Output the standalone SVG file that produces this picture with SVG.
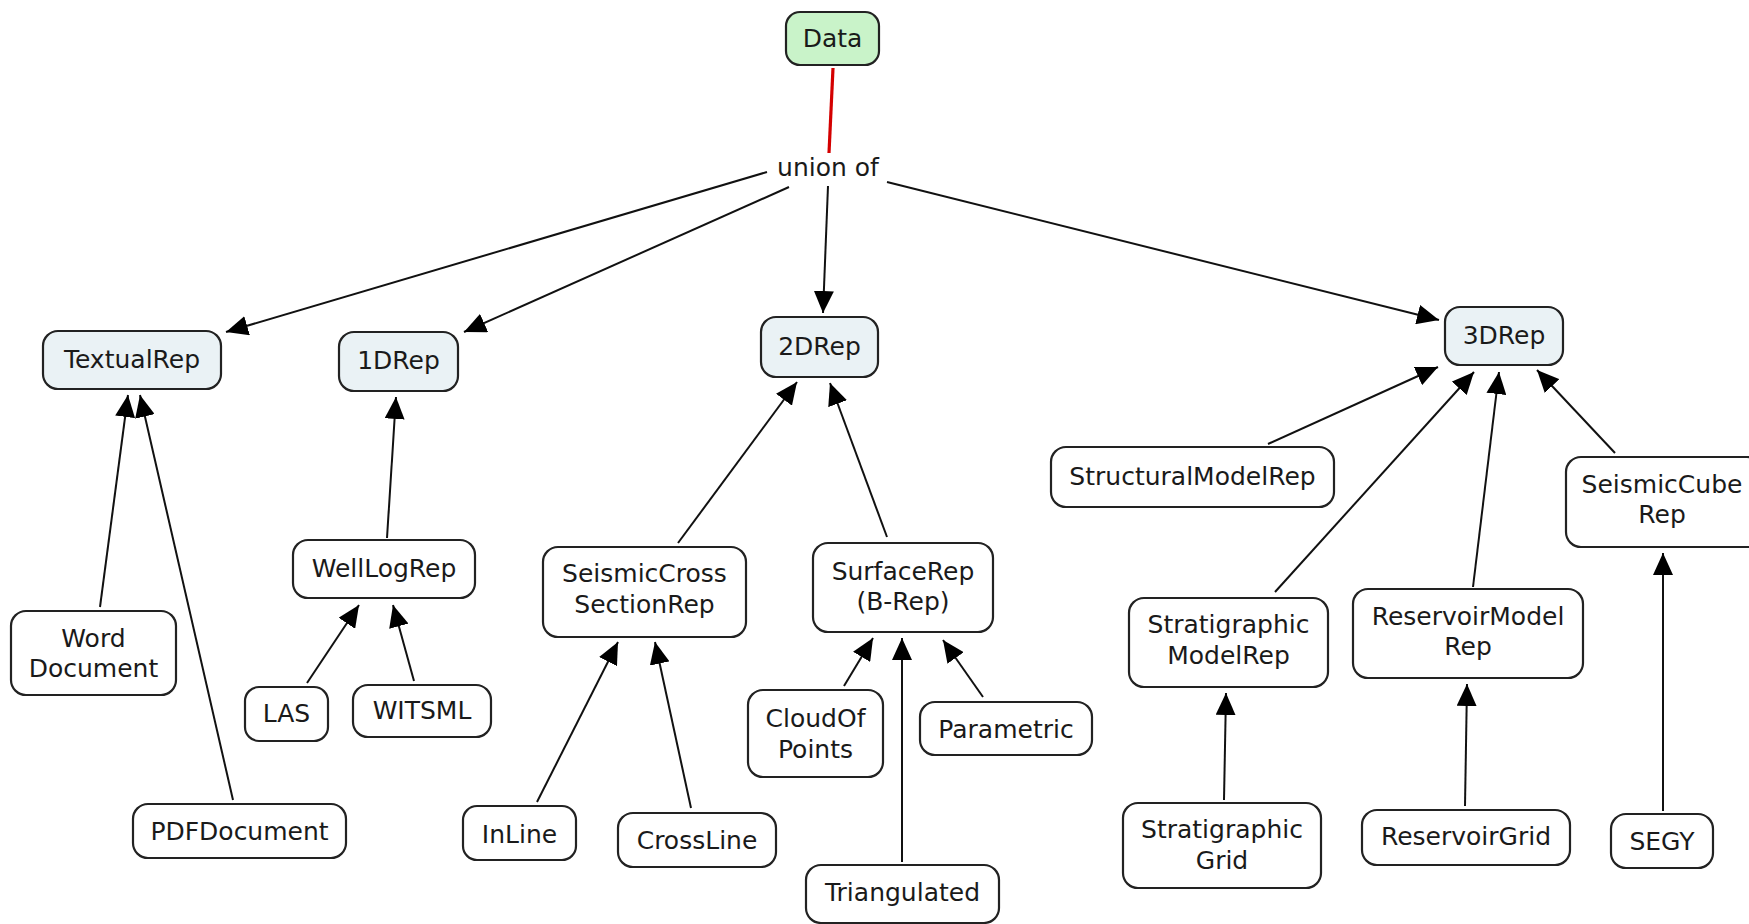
<svg xmlns="http://www.w3.org/2000/svg" width="1749" height="924" viewBox="0 0 1749 924">
<style>
.n rect{stroke:#222;stroke-width:2.2;fill:#fff}
.n.top rect{fill:#eaf2f5}
.n.root rect{fill:#c9f3c9}
text{font-family:"DejaVu Sans","Verdana",sans-serif;font-size:25px;fill:#1a1a1a;text-anchor:middle}
.c line{stroke:#111;stroke-width:2}
.c line.a{marker-end:url(#ah)}
.c line.red{stroke:#d40000;stroke-width:3.2}
</style>
<defs>
<marker id="ah" viewBox="0 0 22 20" refX="22" refY="10" markerWidth="22" markerHeight="20" orient="auto" markerUnits="userSpaceOnUse">
<path d="M0,0 L22,10 L0,20 Z" fill="#000"/>
</marker>
</defs>
<rect width="1749" height="924" fill="#fff"/>
<g id="connectors" class="c">
<line class="red" x1="833" y1="68" x2="829" y2="153"/>
<line class="a" x1="767" y1="172" x2="226" y2="332"/>
<line class="a" x1="789" y1="187" x2="464" y2="332"/>
<line class="a" x1="828" y1="186" x2="823" y2="313"/>
<line class="a" x1="887" y1="182" x2="1439" y2="320"/>
<line class="a" x1="100" y1="607" x2="128" y2="395"/>
<line class="a" x1="233" y1="800" x2="140" y2="395"/>
<line class="a" x1="387" y1="538" x2="396" y2="397"/>
<line class="a" x1="307" y1="683" x2="359" y2="605"/>
<line class="a" x1="414" y1="681" x2="393" y2="605"/>
<line class="a" x1="678" y1="543" x2="797" y2="382"/>
<line class="a" x1="887" y1="537" x2="830" y2="383"/>
<line class="a" x1="537" y1="802" x2="618" y2="642"/>
<line class="a" x1="691" y1="808" x2="655" y2="642"/>
<line class="a" x1="844" y1="686" x2="873" y2="638"/>
<line class="a" x1="902" y1="862" x2="902" y2="638"/>
<line class="a" x1="983" y1="697" x2="943" y2="640"/>
<line class="a" x1="1268" y1="444" x2="1438" y2="367"/>
<line class="a" x1="1275" y1="592" x2="1474" y2="372"/>
<line class="a" x1="1473" y1="587" x2="1499" y2="372"/>
<line class="a" x1="1615" y1="453" x2="1537" y2="370"/>
<line class="a" x1="1224" y1="800" x2="1226" y2="693"/>
<line class="a" x1="1465" y1="806" x2="1467" y2="684"/>
<line class="a" x1="1663" y1="811" x2="1663" y2="553"/>
</g>
<g id="union-of"><text x="828" y="176">union of</text></g>
<g id="data" class="n root"><rect x="786" y="12" width="93" height="53" rx="14"/><text x="832.5" y="47">Data</text></g>
<g id="textualrep" class="n top"><rect x="43" y="331" width="178" height="58" rx="15"/><text x="132" y="368">TextualRep</text></g>
<g id="rep1d" class="n top"><rect x="339" y="332" width="119" height="59" rx="15"/><text x="398.5" y="369">1DRep</text></g>
<g id="rep2d" class="n top"><rect x="761" y="317" width="117" height="60" rx="15"/><text x="819.5" y="355">2DRep</text></g>
<g id="rep3d" class="n top"><rect x="1445" y="307" width="118" height="58" rx="15"/><text x="1504" y="344">3DRep</text></g>
<g id="welllogrep" class="n"><rect x="293" y="540" width="182" height="58" rx="15"/><text x="384" y="577">WellLogRep</text></g>
<g id="worddocument" class="n"><rect x="11" y="611" width="165" height="84" rx="15"/><text x="93.5" y="647">Word</text><text x="93.5" y="677">Document</text></g>
<g id="pdfdocument" class="n"><rect x="133" y="804" width="213" height="54" rx="15"/><text x="239.5" y="840">PDFDocument</text></g>
<g id="las" class="n"><rect x="245" y="687" width="83" height="54" rx="14"/><text x="286.5" y="722">LAS</text></g>
<g id="witsml" class="n"><rect x="353" y="685" width="138" height="52" rx="15"/><text x="422" y="719">WITSML</text></g>
<g id="seismiccrosssectionrep" class="n"><rect x="543" y="547" width="203" height="90" rx="15"/><text x="644.5" y="582">SeismicCross</text><text x="644.5" y="613">SectionRep</text></g>
<g id="surfacerep" class="n"><rect x="813" y="543" width="180" height="89" rx="15"/><text x="903" y="580">SurfaceRep</text><text x="903" y="610">(B-Rep)</text></g>
<g id="inline" class="n"><rect x="463" y="806" width="113" height="54" rx="14"/><text x="519.5" y="843">InLine</text></g>
<g id="crossline" class="n"><rect x="618" y="813" width="158" height="54" rx="15"/><text x="697" y="849">CrossLine</text></g>
<g id="cloudofpoints" class="n"><rect x="748" y="690" width="135" height="87" rx="15"/><text x="815.5" y="727">CloudOf</text><text x="815.5" y="758">Points</text></g>
<g id="parametric" class="n"><rect x="920" y="702" width="172" height="53" rx="15"/><text x="1006" y="738">Parametric</text></g>
<g id="triangulated" class="n"><rect x="806" y="865" width="193" height="58" rx="15"/><text x="902.5" y="901">Triangulated</text></g>
<g id="structuralmodelrep" class="n"><rect x="1051" y="447" width="283" height="60" rx="15"/><text x="1192.5" y="485">StructuralModelRep</text></g>
<g id="seismiccuberep" class="n"><rect x="1566" y="457" width="196" height="90" rx="15"/><text x="1662" y="493">SeismicCube</text><text x="1662" y="523">Rep</text></g>
<g id="stratigraphicmodelrep" class="n"><rect x="1129" y="598" width="199" height="89" rx="15"/><text x="1228.5" y="633">Stratigraphic</text><text x="1228.5" y="664">ModelRep</text></g>
<g id="reservoirmodelrep" class="n"><rect x="1353" y="589" width="230" height="89" rx="15"/><text x="1468" y="625">ReservoirModel</text><text x="1468" y="655">Rep</text></g>
<g id="stratigraphicgrid" class="n"><rect x="1123" y="803" width="198" height="85" rx="15"/><text x="1222" y="838">Stratigraphic</text><text x="1222" y="869">Grid</text></g>
<g id="reservoirgrid" class="n"><rect x="1362" y="810" width="208" height="55" rx="15"/><text x="1466" y="845">ReservoirGrid</text></g>
<g id="segy" class="n"><rect x="1611" y="814" width="102" height="54" rx="15"/><text x="1662" y="850">SEGY</text></g>
</svg>
